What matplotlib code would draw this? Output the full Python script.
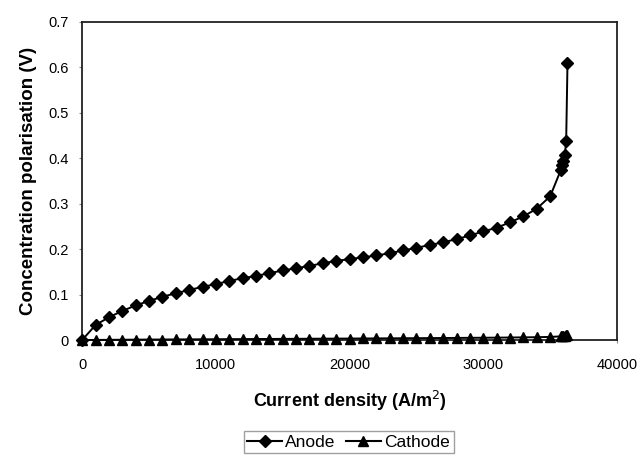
import matplotlib.pyplot as plt
from matplotlib.lines import Line2D

plt.rcParams['font.family'] = ['Liberation Sans', 'DejaVu Sans']

# current density (A/m2)
current = [0, 1000, 2000, 3000, 4000, 5000, 6000, 7000, 8000, 9000,
           10000, 11000, 12000, 13000, 14000, 15000, 16000, 17000, 18000, 19000,
           20000, 21000, 22000, 23000, 24000, 25000, 26000, 27000, 28000, 29000,
           30000, 31000, 32000, 33000, 34000, 35000,
           35800, 35900, 36000, 36100, 36200, 36300]

anode = [0.0, 0.033, 0.050, 0.064, 0.076, 0.086, 0.095, 0.103, 0.110, 0.117,
         0.123, 0.130, 0.136, 0.141, 0.147, 0.153, 0.158, 0.163, 0.169, 0.174,
         0.178, 0.182, 0.186, 0.191, 0.197, 0.203, 0.209, 0.215, 0.222, 0.230,
         0.239, 0.247, 0.259, 0.272, 0.289, 0.316,
         0.374, 0.385, 0.394, 0.407, 0.437, 0.609]

cathode = [0.0, 0.0002, 0.0004, 0.0006, 0.0008, 0.001, 0.0011, 0.0013, 0.0014, 0.0016,
           0.0017, 0.0019, 0.002, 0.0022, 0.0023, 0.0025, 0.0026, 0.0028, 0.0029, 0.0031,
           0.0032, 0.0034, 0.0035, 0.0037, 0.0039, 0.004, 0.0042, 0.0044, 0.0046, 0.0048,
           0.005, 0.0052, 0.0055, 0.0058, 0.0062, 0.0068,
           0.008, 0.0085, 0.009, 0.0095, 0.010, 0.012]

fig = plt.figure(figsize=(6.42, 4.57), dpi=100)
ax = fig.add_axes([0.128, 0.256, 0.833, 0.696])

ax.plot(current, anode, color='black', linewidth=1.4, marker='D', markersize=6.5,
        label='Anode', clip_on=False, zorder=4)
ax.plot(current, cathode, color='black', linewidth=1.4, marker='^', markersize=7.5,
        label='Cathode', clip_on=False, zorder=3)

ax.set_xlim(0, 40000)
ax.set_ylim(0, 0.7)
ax.set_xticks([0, 10000, 20000, 30000, 40000])
ax.set_yticks([0, 0.1, 0.2, 0.3, 0.4, 0.5, 0.6, 0.7])
ax.set_yticklabels(['0', '0.1', '0.2', '0.3', '0.4', '0.5', '0.6', '0.7'])
ax.tick_params(length=2, width=0.8, color='#888888', labelsize=10.5, pad=8)
ax.tick_params(axis='x', pad=11)
for s in ax.spines.values():
    s.set_linewidth(1.3)
    s.set_color('#222222')

ax.set_xlabel('Current density (A/m$^2$)', fontsize=13, fontweight='bold', labelpad=12)
ax.set_ylabel('Concentration polarisation (V)', fontsize=13.5, fontweight='bold', labelpad=8)

handles = [Line2D([], [], color='black', marker='D', markersize=6),
           Line2D([], [], color='black', marker='^', markersize=7)]
fig.legend(handles, ['Anode', 'Cathode'], loc='center', bbox_to_anchor=(0.543, 0.032),
           ncol=2, frameon=True, fancybox=False, edgecolor='#888888', fontsize=12.5,
           handlelength=2.0, handletextpad=0.2, columnspacing=0.6, borderpad=0.2)

fig.savefig('out.png', dpi=100)
